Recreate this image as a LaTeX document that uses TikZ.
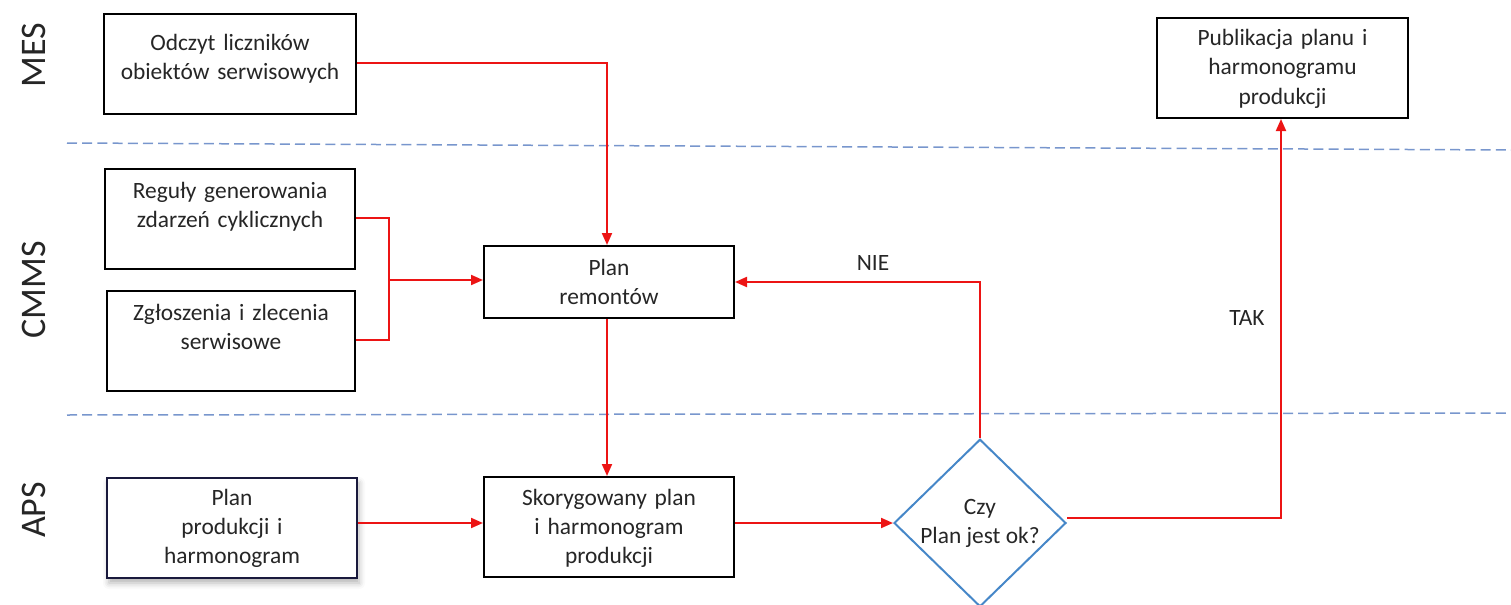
\documentclass[tikz,border=0pt]{standalone}
\usepackage{fontspec}
\setmainfont{Carlito}
\usetikzlibrary{shapes.geometric,arrows.meta,shadows.blur}
\definecolor{flowred}{RGB}{236,20,20}
\definecolor{laneblue}{RGB}{120,150,205}
\definecolor{diablue}{RGB}{70,135,200}
\definecolor{navy}{RGB}{25,25,60}
\begin{document}
\begin{tikzpicture}[x=0.5pt,y=-0.5pt,
  every node/.style={font=\fontsize{11.7}{14.5}\selectfont, text=black!85},
  boxnode/.style={draw=black, line width=1pt, inner sep=0pt, align=center, fill=white},
  lanelabel/.style={rotate=90, font=\fontsize{18}{21}\selectfont},
  laneline/.style={draw=laneblue, line width=0.75pt, dash pattern=on 5pt off 2.6pt},
  flow/.style={draw=flowred, line width=1pt, -{Triangle[length=6pt,width=5pt]}},
  flowline/.style={draw=flowred, line width=1pt}]
\useasboundingbox (0,0) rectangle (1511,605);

% lane labels
\node[lanelabel] (mes) at (34,55) {MES};
\node[lanelabel] (cmms) at (34,290) {CMMS};
\node[lanelabel] (aps) at (34,510) {APS};

% lane separators
\coordinate (l1a) at (67,143);
\coordinate (l1b) at (1511,150);
\coordinate (l2a) at (67,415);
\coordinate (l2b) at (1511,413);
\path[laneline] (l1a) -- (l1b);
\path[laneline] (l2a) -- (l2b);

% boxes (text height = top to first baseline, depth = first baseline to bottom)
\node[boxnode, anchor=north west, text width=126pt, text height=18pt, text depth=32pt] (odczyt) at (103,13)
  {Odczyt liczników\\obiektów serwisowych};
\node[boxnode, anchor=north west, text width=125.5pt, text height=14pt, text depth=36pt] (publ) at (1156,17)
  {Publikacja planu i\\harmonogramu\\produkcji};
\node[boxnode, anchor=north west, text width=125pt, text height=14.5pt, text depth=35.5pt] (reguly) at (104,168)
  {Reguły generowania\\zdarzeń cyklicznych};
\node[boxnode, anchor=north west, text width=124pt, text height=14.5pt, text depth=35.5pt] (zgl) at (106,290)
  {Zgłoszenia i zlecenia\\serwisowe};
\node[boxnode, anchor=north west, text width=125pt, text height=14.5pt, text depth=21.5pt] (remont) at (483,245)
  {Plan\\remontów};
\node[boxnode, draw=navy, anchor=north west, text width=125pt, text height=13.5pt, text depth=36.5pt,
  blur shadow={shadow xshift=1pt, shadow yshift=-2.5pt, shadow blur radius=3pt, shadow opacity=30}] (prod) at (106,477)
  {Plan\\produkcji i\\harmonogram};
\node[boxnode, anchor=north west, text width=125pt, text height=14pt, text depth=36pt] (skor) at (483,476)
  {Skorygowany plan\\i harmonogram\\produkcji};
\node[diamond, draw=diablue, line width=1pt, fill=white, inner sep=0pt, minimum width=86pt, minimum height=82pt, align=center] (dec) at (980,523)
  {Czy\\Plan jest ok?};

% connectors
\coordinate (j1) at (607,63);
\path[flow] (odczyt.east |- j1) -- (j1) -- (remont.north -| j1);

\coordinate (m1) at (389,218);
\coordinate (m2) at (389,340);
\coordinate (m3) at (389,280);
\path[flowline] (reguly.east |- m1) -- (m1) -- (m2) -- (zgl.east |- m2);
\path[flow] (m3) -- (remont.west |- m3);

\path[flow] (remont.south -| j1) -- (skor.north -| j1);

\path[flow] (prod.east |- dec.west) -- (skor.west |- dec.west);
\path[flow] (skor.east |- dec.west) -- (dec.west);

\coordinate (n1) at (980,282);
\path[flow] (dec.north) -- (n1) -- (remont.east |- n1);
\node (nie) at (873,263) {NIE};

\coordinate (t1) at (1281,518);
\path[flow] (dec.east |- t1) -- (t1) -- (publ.south -| t1);
\node (tak) at (1247,318) {TAK};
\end{tikzpicture}
\end{document}
